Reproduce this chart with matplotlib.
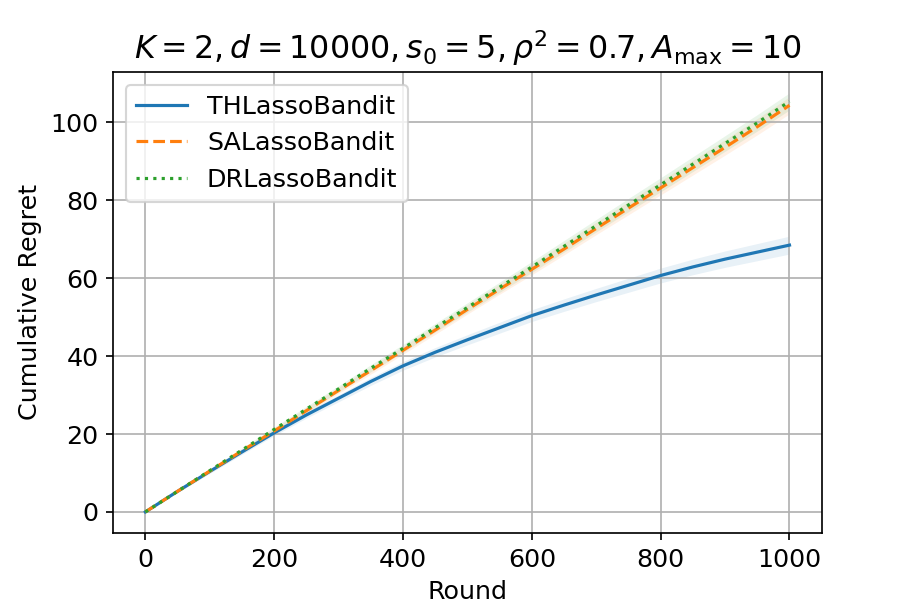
import numpy as np
import matplotlib
matplotlib.use("Agg")
import matplotlib.pyplot as plt

rounds = [0, 50, 100, 150, 200, 250, 300, 350, 400, 450, 500,
          550, 600, 650, 700, 750, 800, 850, 900, 950, 1000]
th_mean = [0, 5.3, 10.4, 15.4, 20.3, 24.9, 29.2, 33.5, 37.5, 41.0, 44.2,
           47.3, 50.4, 53.1, 55.7, 58.2, 60.7, 62.9, 64.9, 66.7, 68.5]
th_std = [0, 0.3, 0.5, 0.6, 0.7, 0.8, 0.9, 1.0, 1.1, 1.2, 1.3,
          1.4, 1.5, 1.6, 1.7, 1.8, 1.9, 2.0, 2.1, 2.2, 2.3]
sa_mean = [0, 5.3, 10.5, 15.7, 20.8, 26.0, 31.2, 36.3, 41.5, 46.7, 52.0,
           57.2, 62.3, 67.5, 72.8, 78.0, 83.2, 88.4, 93.6, 98.9, 104.4]
sa_std = [0, 0.3, 0.4, 0.5, 0.6, 0.7, 0.8, 0.9, 1.0, 1.1, 1.2,
          1.3, 1.4, 1.5, 1.6, 1.7, 1.8, 1.9, 2.0, 2.1, 2.2]
dr_mean = [0, 5.3, 10.6, 15.9, 21.2, 26.4, 31.6, 36.9, 42.0, 47.3, 52.5,
           57.7, 62.9, 68.2, 73.5, 78.8, 84.0, 89.3, 94.6, 99.9, 105.4]
dr_std = [0, 0.3, 0.4, 0.5, 0.6, 0.7, 0.8, 0.9, 1.0, 1.1, 1.2,
          1.3, 1.4, 1.5, 1.6, 1.7, 1.8, 1.9, 2.0, 2.1, 2.2]

labels = ["THLassoBandit", "SALassoBandit", "DRLassoBandit"]
styles = ["-", "--", ":"]
colors = ["#1f77b4", "#ff7f0e", "#2ca02c"]

fig = plt.figure(figsize=(913 / 152, 609 / 152), dpi=152)
ax = fig.add_axes([0.124, 0.125, 0.776, 0.757])

x = np.array(rounds)
for m, s, lab, ls, c in zip([th_mean, sa_mean, dr_mean], [th_std, sa_std, dr_std],
                            labels, styles, colors):
    m = np.array(m); s = np.array(s)
    ax.plot(x, m, ls, color=c, label=lab, linewidth=1.5)
    ax.fill_between(x, m - s, m + s, color=c, alpha=0.1, linewidth=0)

ax.grid(True)
ax.set_xlabel("Round", fontsize=12)
ax.set_ylabel("Cumulative Regret", fontsize=12)
ax.tick_params(labelsize=12)
ax.set_title(r"$K=2, d=10000, s_0=5, \rho^2=0.7, A_{\max}=10$", fontsize=15)
ax.legend(loc="upper left", fontsize=12)
fig.savefig("out.png", dpi=152)
